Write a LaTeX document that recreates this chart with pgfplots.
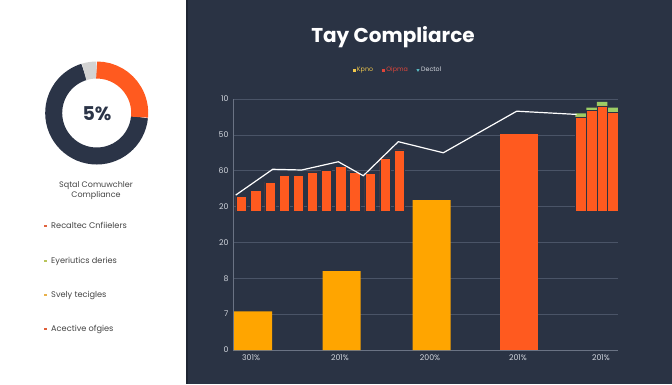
\documentclass[border=0pt]{standalone}
\usepackage{pgfplots}
\pgfplotsset{compat=1.18}
\usepackage{fontspec}
\setmainfont{Poppins}
\definecolor{panel}{HTML}{2A3344}
\definecolor{panelline}{HTML}{1E2532}
\definecolor{barorange}{HTML}{FF5A1F}
\definecolor{baryellow}{HTML}{FFA500}
\definecolor{gridc}{HTML}{4A5467}
\definecolor{axisc}{HTML}{6A7384}
\definecolor{tickc}{HTML}{D5D9E0}
\definecolor{capgreen}{HTML}{9CCC65}
\definecolor{navy}{HTML}{2B3447}
\definecolor{donutorange}{HTML}{FF5A1F}
\definecolor{donutgrey}{HTML}{D3D3D3}
\definecolor{legyellow}{HTML}{F2C94C}
\definecolor{legred}{HTML}{E0453A}
\definecolor{legteal}{HTML}{5BC0C8}
\definecolor{legtext}{HTML}{D8DCE2}
\definecolor{lefttext}{HTML}{444444}
\definecolor{bulA}{HTML}{E0643F}
\definecolor{bulB}{HTML}{B8C45A}
\definecolor{bulC}{HTML}{E8B04A}
\definecolor{bulD}{HTML}{E0603A}
\pgfplotsset{mainax/.style={scale only axis, width=385pt, height=251pt,
  at={(233pt,34pt)}, anchor=south west, xmin=0, xmax=385, ymin=0, ymax=7}}
\begin{document}
\begin{tikzpicture}
% panels
\fill[white] (0,0) rectangle (186pt,384pt);
\fill[panel] (186pt,0) rectangle (672pt,384pt);
\fill[panelline] (186pt,0) rectangle (188pt,384pt);
% donut (percent shares: orange 26.4, grey 4.7, navy 68.9)
\draw[line width=17pt, navy] (96.7pt,271pt) ++(-5.5:43pt) arc[start angle=-5.5, end angle=-253, radius=43pt];
\draw[line width=17pt, donutgrey] (96.7pt,271pt) ++(107:43pt) arc[start angle=107, end angle=90, radius=43pt];
\draw[line width=17pt, donutorange] (96.7pt,271pt) ++(90:43pt) arc[start angle=90, end angle=-5.5, radius=43pt];
\node[font=\fontsize{19}{21}\selectfont\bfseries, text=navy] at (97pt,270pt) {5\%};
\node[font=\fontsize{8}{9.3}\selectfont, text=lefttext, align=center] at (96pt,193.5pt) {Sqtal Comuwchler\\Compliance};
% left list
\foreach \y/\c/\t in {225.7/bulA/Recaltec Cnfiielers, 261/bulB/Eyeriutics deries, 295/bulC/Svely tecigles, 329/bulD/Acective ofgies}{
  \fill[\c] (44pt,384pt-\y pt-1.2pt) rectangle (46.6pt,384pt-\y pt+1.2pt);
  \node[anchor=west, font=\fontsize{8.2}{9}\selectfont, text=lefttext, inner sep=0pt] at (51pt,384pt-\y pt) {\t};
}
% title
\node[font=\fontsize{20}{24}\selectfont\bfseries, text=white] at (393pt,347pt) {Tay Compliarce};
% main axis
\begin{axis}[mainax,
  axis lines=left, axis line style={draw=axisc, line width=0.6pt, -},
  ymajorgrids, grid style={gridc, line width=0.5pt},
  ytick={0,1,2,3,4,5,6,7}, yticklabels={0,7,8,20,20,60,50,10},
  xtick={18,107,197,285,368}, xticklabels={301\%,201\%,200\%,201\%,201\%},
  major tick length=0pt,
  tick label style={font=\fontsize{7.8}{8}\selectfont, text=tickc},
  yticklabel style={xshift=-1pt},
  xticklabel style={yshift=-1.5pt},
  /pgf/number format/assume math mode=true,
  legend style={at={(0.4286,1.1155)}, anchor=center, draw=none, fill=none,
    font=\fontsize{6.3}{7}\selectfont, legend columns=3,
    /tikz/every even column/.append style={column sep=7pt}},
  legend cell align=left]
\addplot[ybar, bar width=38, bar shift=0pt, fill=baryellow, draw=none, forget plot]
  coordinates {(20,1.08) (108.5,2.2) (198.5,4.18)};
\addplot[ybar, bar width=38, bar shift=0pt, fill=barorange, draw=none, forget plot]
  coordinates {(286,6.02)};
\addlegendimage{only marks, mark=square*, mark size=1.1pt, color=legyellow}
\addlegendentry{\textcolor{legyellow}{Kpno}}
\addlegendimage{only marks, mark=square*, mark size=1.1pt, color=legred}
\addlegendentry{\textcolor{legred}{Oipma}}
\addlegendimage{only marks, mark=triangle*, mark size=1.4pt, mark options={rotate=180}, color=legteal}
\addlegendentry{\textcolor{legtext}{Dectol}}
\end{axis}
% floating bars
\begin{axis}[mainax, hide axis, ybar stacked, bar width=10.5]
\addplot[draw=none, fill=none] coordinates {
 (8,3.86) (22.7,3.86) (37,3.86) (51.3,3.86) (65.3,3.86) (79.3,3.86) (93.3,3.86) (107.7,3.86)
 (121.7,3.86) (137,3.86) (152,3.86) (166.3,3.86) (347.5,3.86) (358.5,3.86) (369,3.86) (379.7,3.86)};
\addplot[fill=barorange, draw=panel, line width=0.4pt] coordinates {
 (8,0.42) (22.7,0.59) (37,0.82) (51.3,1.02) (65.3,1.02) (79.3,1.11) (93.3,1.16) (107.7,1.27)
 (121.7,1.11) (137,1.06) (152,1.50) (166.3,1.72) (347.5,2.64) (358.5,2.83) (369,2.95) (379.7,2.77)};
\addplot[fill=capgreen, draw=none] coordinates {
 (8,0) (22.7,0) (37,0) (51.3,0) (65.3,0) (79.3,0) (93.3,0) (107.7,0)
 (121.7,0) (137,0) (152,0) (166.3,0) (347.5,0.10) (358.5,0.07) (369,0.11) (379.7,0.13)};
\end{axis}
% white line
\begin{axis}[mainax, hide axis]
\addplot[white, line width=1.2pt, mark=none] coordinates {
 (2.7,4.32) (39.7,5.04) (68.7,5.02) (105.3,5.25) (130.3,4.86) (165.3,5.81) (210.3,5.50) (283.7,6.66) (343.7,6.57)};
\end{axis}
\pgfresetboundingbox
\useasboundingbox (0,0) rectangle (672pt,384pt);
\end{tikzpicture}
\end{document}
